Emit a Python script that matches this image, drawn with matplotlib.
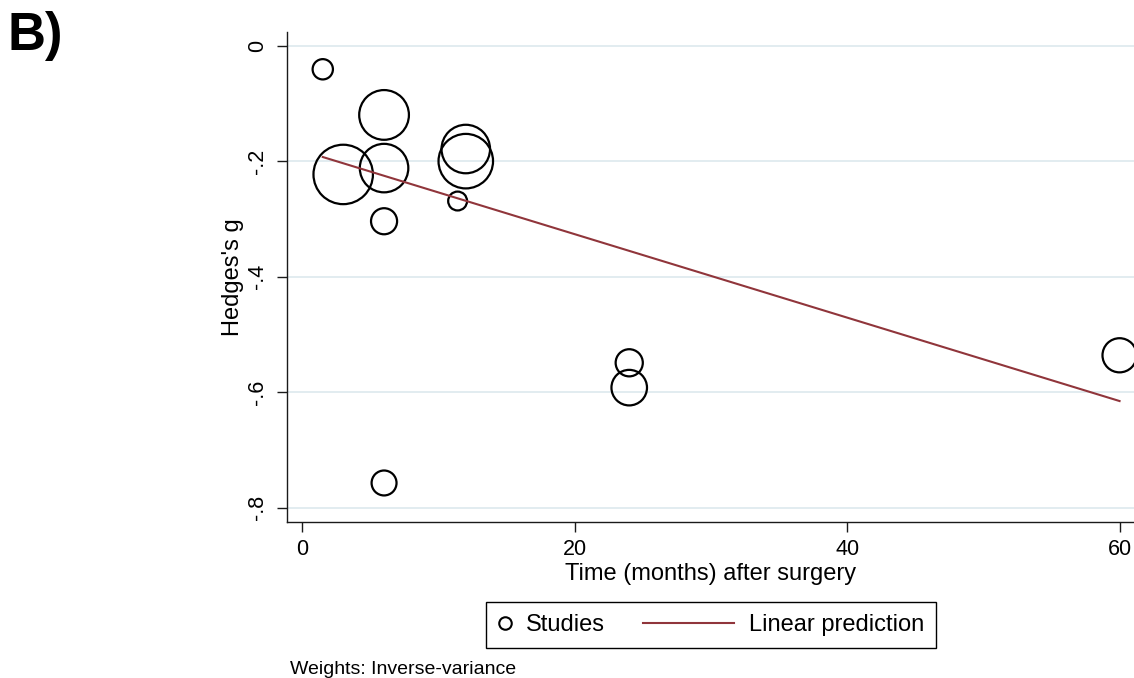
import matplotlib
matplotlib.use('Agg')
import matplotlib.pyplot as plt  # flake8: noqa
import numpy as np
from matplotlib.lines import Line2D
from matplotlib.legend_handler import HandlerBase

plt.rcParams['font.family'] = ['Liberation Sans', 'DejaVu Sans']

# study data
months = [1.5, 6, 3, 6, 6, 12, 12, 11.4, 24, 24, 60, 6]
hedges_g = [-0.041, -0.120, -0.223, -0.212, -0.304, -0.179, -0.200,
            -0.269, -0.549, -0.592, -0.536, -0.757]
weights = [2.4, 12.9, 18.2, 12.3, 3.8, 12.3, 15.4, 2.1, 4.1, 6.8, 6.3, 3.5]

# meta-regression fit
intercept = -0.182
slope = -0.00722

x_ticks = [0, 20, 40, 60]
y_ticks = [0, -0.2, -0.4, -0.6, -0.8]
y_tick_labels = ['0', '-.2', '-.4', '-.6', '-.8']

MAROON = '#90353B'
GRID = '#e2ecf0'
AXIS = '#1a1a1a'


class StataLineHandler(HandlerBase):
    # legend line that reaches further left than the handle box
    def __init__(self, length_pt):
        super().__init__()
        self.length_pt = length_pt

    def create_artists(self, legend, orig_handle, xdescent, ydescent,
                       width, height, fontsize, trans):
        y = height / 2 - ydescent
        x1 = width - xdescent
        x0 = x1 - self.length_pt
        ln = Line2D([x0, x1], [y, y], color=orig_handle.get_color(),
                    lw=orig_handle.get_linewidth(), transform=trans)
        return [ln]


fig = plt.figure(figsize=(11.34, 6.78), dpi=100)
ax = fig.add_axes([0.2534, 0.2297, 0.7466, 0.7235])

# bubble radius (px) scales with sqrt(weight)
radius_px = 7.2 * np.sqrt(np.array(weights))
diam_pt = (2 * radius_px - 2) * 0.72
ax.scatter(months, hedges_g, s=diam_pt ** 2, facecolors='none',
           edgecolors='black', linewidths=1.6, zorder=3, clip_on=False)

xs = np.array(sorted(set(months)))
ax.plot(xs, intercept + slope * xs, color=MAROON, lw=1.5, zorder=4)

ax.set_xlim(-1.1, 61.06)
ax.set_ylim(-0.825, 0.024)
ax.set_xticks(x_ticks)
ax.set_yticks(y_ticks)
ax.set_yticklabels(y_tick_labels, rotation=90, va='center')
ax.yaxis.grid(True, color=GRID, lw=1.4)
ax.set_axisbelow(True)

for side in ['top', 'right']:
    ax.spines[side].set_visible(False)
for side in ['left', 'bottom']:
    ax.spines[side].set_color(AXIS)
    ax.spines[side].set_linewidth(1.0)
ax.tick_params(axis='both', length=7, width=1.0, color=AXIS,
               labelsize=15.5, labelcolor='black')
ax.tick_params(axis='x', pad=5)
ax.tick_params(axis='y', pad=7)

ax.set_xlabel('Time (months) after surgery', fontsize=17)
ax.set_ylabel("Hedges's g", fontsize=17)
ax.xaxis.set_label_coords(0.5, -0.083)
ax.yaxis.set_label_coords(-0.0517, 0.5)

study_handle = Line2D([], [], marker='o', ls='none', mfc='none', mec='black',
                      ms=9, mew=1.5)
line_handle = Line2D([], [], color=MAROON, lw=1.5)
leg = fig.legend([study_handle, line_handle], ['Studies', 'Linear prediction'],
                 loc='center', bbox_to_anchor=(0.6269, 0.0782),
                 bbox_transform=fig.transFigure, ncol=2, fontsize=17,
                 handlelength=0.6, handletextpad=0.62, columnspacing=4.87,
                 borderpad=0.5, fancybox=False, framealpha=1,
                 edgecolor='black',
                 handler_map={line_handle: StataLineHandler(65.5)})
leg.get_frame().set_linewidth(1.0)

fig.text(0.2557, 0.0062, 'Weights: Inverse-variance', fontsize=14,
         va='baseline', ha='left')
fig.text(0.0069, 0.9263, 'B)', fontsize=38, fontweight='bold',
         va='baseline', ha='left')

fig.savefig('out.png', dpi=100)
